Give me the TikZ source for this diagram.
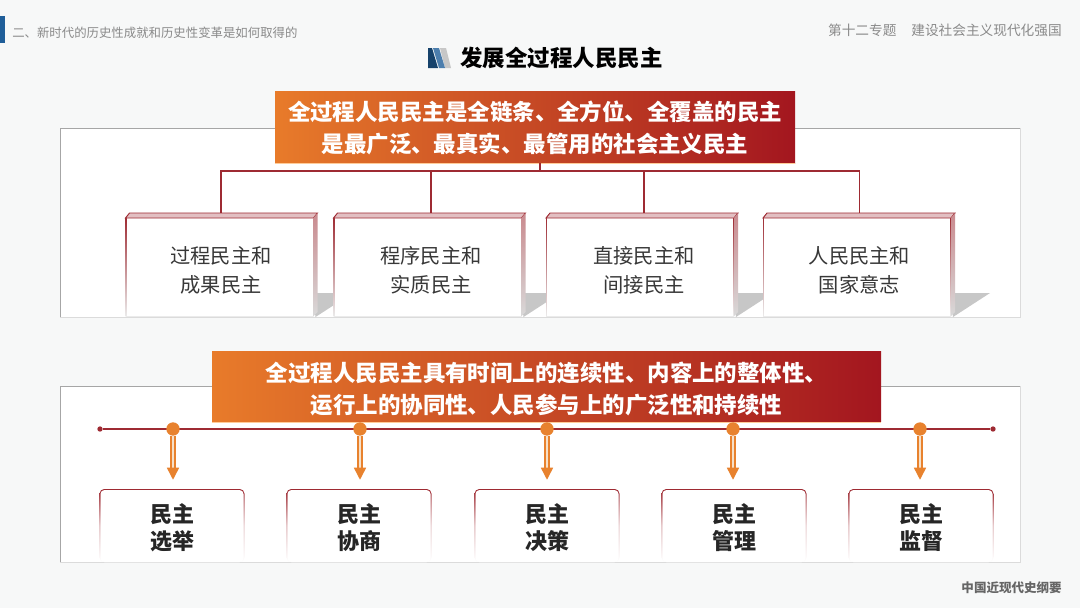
\documentclass[tikz,border=0pt]{standalone}
\usepackage{fontspec}
\setmainfont{Noto Sans CJK SC}
\usetikzlibrary{arrows.meta,positioning}
\definecolor{pageback}{HTML}{F7F8F8}
\definecolor{headblue}{HTML}{1F5E99}
\definecolor{headgray}{HTML}{8A8A8A}
\definecolor{lineRed}{HTML}{9E2A32}
\definecolor{bandOrange}{HTML}{E87B2A}
\definecolor{bandRed}{HTML}{A3161F}
\definecolor{dotOrange}{HTML}{E8822E}
\definecolor{shaftPale}{HTML}{F6E0C8}

\begin{document}
\begin{tikzpicture}[
  x=.75pt, y=-.75pt,
  headtext/.style={font=\fontsize{9.3}{12}\selectfont, text=headgray, inner sep=0pt},
  panel/.style={draw=black!14, fill=white, line width=.5pt},
  band/.style={left color=bandOrange, right color=bandRed, inner sep=0pt},
  bandtext/.style={align=center, text=white, inner sep=0pt, font=\fontsize{16.84}{24}\selectfont\bfseries},
  cardbox/.style={minimum width=127.5pt, inner sep=0pt, align=center,
               text=black!78, font=\fontsize{15.2}{21.75}\selectfont},
  cardedge/.style={top color=lineRed, bottom color=black!8},
  votebox/.style={minimum width=107pt, minimum height=57.75pt, inner sep=0pt,
               align=center, text=black!85, font=\fontsize{16.5}{20}\selectfont\bfseries},
  voteedge/.style={top color=lineRed, bottom color=white, middle color=lineRed!25, rounded corners=3.5pt},
  conn/.style={draw=lineRed, line width=.8pt},
  ar/.style={-{Triangle[length=9pt,width=9pt]}, draw=dotOrange, double=shaftPale, double distance=2pt,
             line width=1.1pt, shorten >=6.75pt}
]
\useasboundingbox (0,0) rectangle (1080,608);
\fill[pageback] (0,0) rectangle (1080,608);

% header
\fill[headblue] (0,16) rectangle (5,43);
\node[headtext, anchor=west] (chapter) at (12,32.5) {二、新时代的历史性成就和历史性变革是如何取得的};
\node[headtext, anchor=east, font=\fontsize{10.25}{12}\selectfont] (course) at (1062,30) {第十二专题\hspace{11.2pt}建设社会主义现代化强国};
\node[anchor=west, inner sep=0pt, font=\fontsize{16.85}{20}\selectfont\bfseries] (title) at (460,58) {发展全过程人民民主};
\fill[black!22] (440,48) -- (446,48) -- (451,68) -- (445,68) -- cycle;
\fill[headblue!80] (433,48) -- (439,48) -- (445,68) -- (439,68) -- cycle;
\fill[headblue!70!black] (428,48) -- (432,48) -- (438,68) -- (428,68) -- cycle;
\node[headtext, anchor=east, font=\fontsize{9.4}{12}\selectfont\bfseries, text=black!60] (book) at (1062,588) {中国近现代史纲要};

% upper panel
\draw[panel] (60,128) rectangle (1020,317);
\draw[black!35, line width=.5pt] (60,317) -- (60,128) -- (1020,128);
\node[band, minimum width=390pt, minimum height=54pt,
      label={[bandtext, yshift=-.75pt]center:{全过程人民民主是全链条、全方位、全覆盖的民主\\是最广泛、最真实、最管用的社会主义民主}}] (bandtop) at (535,127) {};
\draw[orange!40, line width=.8pt] (bandtop.south west) -- (bandtop.south east);
\coordinate (bus) at (540,171);

\foreach \i/\x/\t/\txt in {1/219.5/221/{过程民主和\\成果民主}, 2/427.5/431/{程序民主和\\实质民主},
                           3/640/644/{直接民主和\\间接民主}, 4/857/859.5/{人民民主和\\国家意志}} {
  \fill[black!22] (\x+93,293) -- (\x+133,293) -- (\x+96,317) -- cycle;
  \shade[cardedge] (\x-94,217) rectangle (\x+94,316);
  \fill[white] (\x-93,218) rectangle (\x+93,316);
  \node[cardbox, minimum height=83pt] (card\i) at (\t,270.5) {\txt};
}
\draw[conn] (bandtop.south -| bus) -- (bus);
\foreach \i in {1,...,4} \draw[conn] (bus) -| (card\i.north);
% lids go over the ends of the connectors
\foreach \i/\x in {1/219.5, 2/427.5, 3/640, 4/857} {
  \fill[white!70!lineRed, draw=lineRed, line width=.7pt] (\x-94,218) -- (\x-90,213) -- (\x+98,213) -- (\x+94,218) -- cycle;
  \shade[top color=lineRed!55, bottom color=black!15] (\x+94,218) -- (\x+98,213) -- (\x+98,312) -- (\x+94,316) -- cycle;
}

% lower panel
\draw[panel] (60,386) rectangle (1020,562);
\draw[black!35, line width=.5pt] (60,562) -- (60,386) -- (1020,386);
\node[band, minimum width=501.75pt, minimum height=53pt,
      label={[bandtext, yshift=-1.9pt]center:{全过程人民民主具有时间上的连续性、内容上的整体性、\\运行上的协同性、人民参与上的广泛性和持续性}}] (bandlow) at (546.5,386.5) {};
\draw[orange!40, line width=.8pt] (bandlow.south west) -- (bandlow.south east);

\node[circle, fill=lineRed, inner sep=0pt, minimum size=4pt] (startdot) at (100,429) {};
\node[circle, fill=lineRed, inner sep=0pt, minimum size=4pt] (enddot) at (993,429) {};
\draw[conn] (startdot) -- (enddot);

\foreach \i/\x/\d/\txt in {1/172/173/{民主\\选举}, 2/359/360/{民主\\协商}, 3/547/547/{民主\\决策},
                           4/734/733/{民主\\管理}, 5/921/920/{民主\\监督}} {
  \shade[voteedge] (\x-72.5,489) rectangle (\x+72.5,562);
  \fill[white, rounded corners=3pt] (\x-71.5,490) rectangle (\x+71.5,562);
  \node[votebox] (vote\i) at (\x,527.5) {\txt};
  \node[circle, fill=dotOrange, inner sep=0pt, minimum size=10pt] (dot\i) at (\d,429) {};
  \draw[ar] (dot\i) -- (dot\i |- vote\i.north);
}
\end{tikzpicture}
\end{document}
